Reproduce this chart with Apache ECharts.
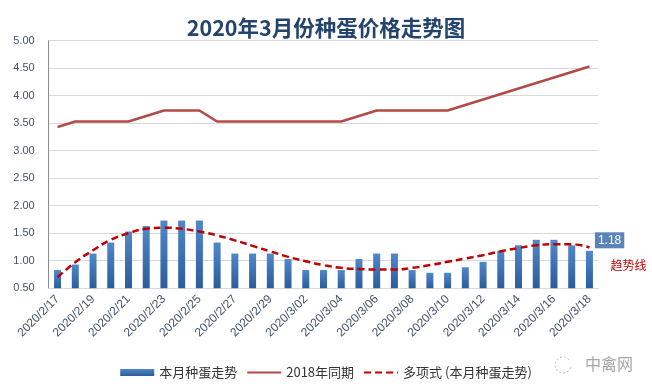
<!DOCTYPE html>
<html>
<head>
<meta charset="utf-8">
<script src="https://cdn.jsdelivr.net/npm/echarts@6/dist/echarts.min.js"></script>
<style>
html,body{margin:0;padding:0;background:#fff;}
#c{width:652px;height:392px;}
</style>
</head>
<body>
<div id="c"></div>
<script>
const categories = [
  "2020/2/17","2020/2/18","2020/2/19","2020/2/20","2020/2/21","2020/2/22","2020/2/23","2020/2/24",
  "2020/2/25","2020/2/26","2020/2/27","2020/2/28","2020/2/29","2020/3/01","2020/3/02","2020/3/03",
  "2020/3/04","2020/3/05","2020/3/06","2020/3/07","2020/3/08","2020/3/09","2020/3/10","2020/3/11",
  "2020/3/12","2020/3/13","2020/3/14","2020/3/15","2020/3/16","2020/3/17","2020/3/18"
];
const thisMonth = [
  0.83,0.93,1.13,1.33,1.53,1.63,1.73,1.73,
  1.73,1.33,1.13,1.13,1.13,1.03,0.83,0.83,
  0.83,1.03,1.13,1.13,0.83,0.78,0.78,0.88,
  0.98,1.18,1.28,1.38,1.38,1.28,1.18
];
const sameTime2018 = [
  3.43,3.53,3.53,3.53,3.53,3.63,3.73,3.73,
  3.73,3.53,3.53,3.53,3.53,3.53,3.53,3.53,
  3.53,3.63,3.73,3.73,3.73,3.73,3.73,3.83,
  3.93,4.03,4.13,4.23,4.33,4.43,4.53
];
const trendLine = [
  0.70,0.97,1.19,1.38,1.50,1.58,1.60,1.58,
  1.53,1.46,1.37,1.27,1.17,1.07,0.99,0.92,
  0.87,0.85,0.84,0.84,0.87,0.92,0.98,1.04,
  1.10,1.17,1.23,1.28,1.30,1.30,1.24
];
const seriesNames = ["本月种蛋走势","2018年同期","多项式 (本月种蛋走势)"];
const titleText = "2020年3月份种蛋价格走势图";

const chart = echarts.init(document.getElementById('c'), null, {renderer:'canvas'});
const lastIdx = thisMonth.length - 1;
const barData = thisMonth.map((v,i) => i === lastIdx ? {
  value: v,
  label: {
    show: true, position: [9, -18.5], align: 'left', verticalAlign: 'top',
    formatter: (p) => p.value.toFixed(2),
    color: '#fff', fontSize: 12, fontFamily: 'Liberation Sans',
    backgroundColor: '#5A84BA', padding: [2, 3, 1, 3], lineHeight: 13
  }
} : v);

chart.setOption({
  animation: false,
  backgroundColor: '#fff',
  title: {
    text: titleText, left: 'center', top: 12,
    textStyle: {fontSize: 21.5, fontWeight: 'bold', color: '#24446D', fontFamily: 'Noto Sans CJK SC'}
  },
  grid: {left: 48.7, right: 53.7, top: 40.7, bottom: 103.8},
  legend: {
    top: 361, left: 'center', itemWidth: 34, itemHeight: 7, itemGap: 9,
    textStyle: {fontSize: 13, color: '#333', fontFamily: 'Noto Sans CJK SC'},
    data: [
      {name: seriesNames[0], icon: 'rect'},
      {name: seriesNames[1], itemStyle: {opacity: 0}},
      {name: seriesNames[2], itemStyle: {opacity: 0}}
    ]
  },
  xAxis: {
    type: 'category', data: categories,
    axisLine: {show: true, lineStyle: {color: '#D9D9D9'}},
    axisTick: {show: false},
    axisLabel: {interval: 1, rotate: 45, margin: 9, fontSize: 12, color: '#44546A', fontFamily: 'Liberation Sans'}
  },
  yAxis: {
    type: 'value', min: 0.5, max: 5, interval: 0.5,
    axisLine: {show: true, lineStyle: {color: '#8C8C8C'}},
    axisTick: {show: false},
    splitLine: {lineStyle: {color: '#D9D9D9'}},
    axisLabel: {formatter: v => v.toFixed(2), fontSize: 11, color: '#44546A', margin: 14, fontFamily: 'Liberation Sans'}
  },
  series: [
    {
      name: seriesNames[0], type: 'bar', data: barData, barWidth: 7,
      itemStyle: {color: new echarts.graphic.LinearGradient(0,0,0,1,[{offset:0,color:'#4F88CA'},{offset:1,color:'#2C5C9C'}])}
    },
    {
      name: seriesNames[1], type: 'line', data: sameTime2018, symbol: 'none', showSymbol: false,
      lineStyle: {color: '#B24B47', width: 2.5}, itemStyle: {color: '#B24B47'}
    },
    {
      name: seriesNames[2], type: 'line', data: trendLine, symbol: 'none', showSymbol: false, smooth: true,
      lineStyle: {color: '#C00000', width: 2.5, type: [7, 4]}, itemStyle: {color: '#C00000'},
      endLabel: {show: true, formatter: '趋势线', color: '#C00000', fontSize: 12, fontFamily: 'Noto Sans CJK SC', offset: [13, 17.5]}
    }
  ],
  graphic: [
    {type: 'arc', shape: {cx: 563, cy: 365, r: 8, startAngle: 0.3, endAngle: 5.6}, style: {stroke: '#B8B8B8', lineWidth: 1, lineDash: [2, 2], fill: null}},
    {type: 'text', left: 585, top: 356, style: {text: '中禽网', fontSize: 16, fill: '#A6A6A6', fontFamily: 'Noto Sans CJK SC'}}
  ]
});
</script>
</body>
</html>
